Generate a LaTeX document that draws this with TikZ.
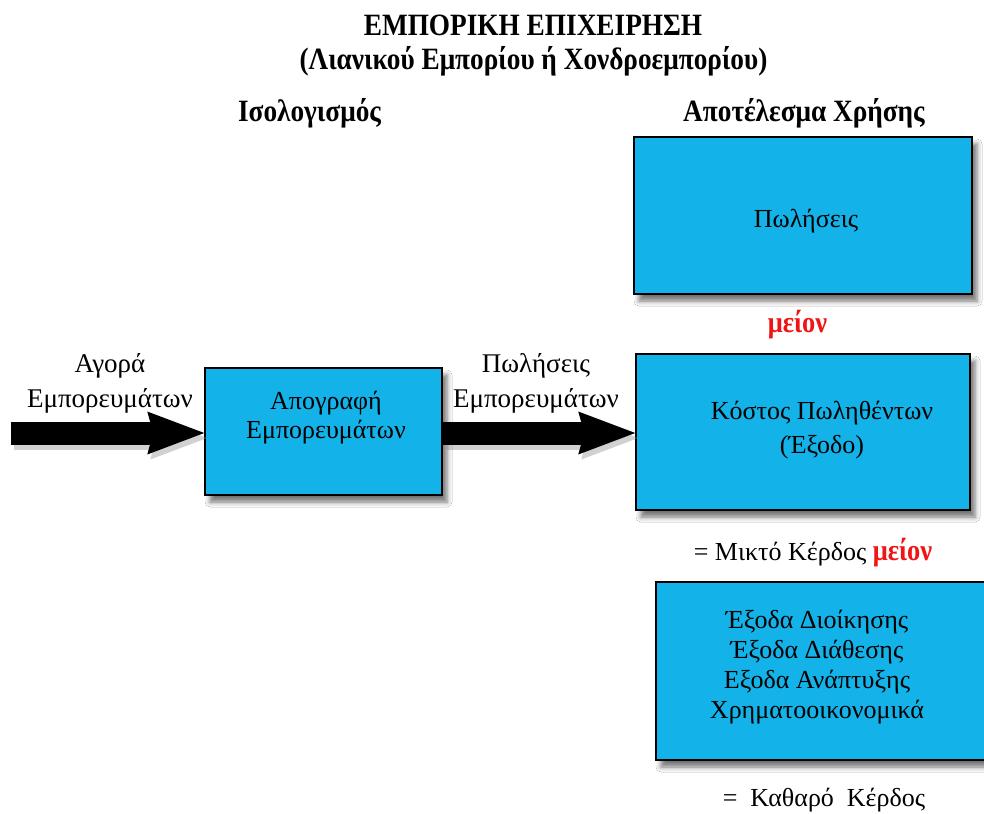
\documentclass[tikz,border=0pt]{standalone}
\usepackage{fontspec}
\setmainfont{Liberation Serif}
\newfontfamily\titlefont{Liberation Serif}[FakeStretch=0.88]
\usetikzlibrary{arrows.meta,shadows.blur}
\definecolor{boxblue}{RGB}{19,178,232}
\definecolor{meionred}{RGB}{240,20,20}
\tikzset{
  bluebox/.style={draw=black, line width=1.5pt, fill=boxblue, inner sep=0pt,
    blur shadow={shadow xshift=5pt, shadow yshift=-7pt, shadow blur radius=5pt, shadow opacity=55}},
  bodytxt/.style={font=\fontsize{26}{30}\selectfont, align=center, inner sep=0pt},
  headtxt/.style={font=\titlefont\bfseries\fontsize{31}{36}\selectfont, inner sep=0pt, anchor=base},
  bigarrow/.style={line width=23pt, -{Stealth[line width=0pt, length=57pt, width=43pt, inset=6pt]}},
  arrowshadow/.style={bigarrow, draw=black!45, opacity=0.4},
}
\begin{document}
\begin{tikzpicture}[x=1pt,y=-1pt]
\clip (0,0) rectangle (984,813);
\fill[white] (0,0) rectangle (984,813);
% titles
\node[headtxt] (t1) at (533,36) {ΕΜΠΟΡΙΚΗ ΕΠΙΧΕΙΡΗΣΗ};
\node[headtxt] (t2) at (533.5,70) {(Λιανικού Εμπορίου ή Χονδροεμπορίου)};
\node[headtxt] (h1) at (309.5,122) {Ισολογισμός};
\node[headtxt] (h2) at (804,122) {Αποτέλεσμα Χρήσης};
% boxes
\node[bluebox, minimum width=338pt, minimum height=157pt] (sales) at (803,215.5) {};
\node[bodytxt] (salest) at (806,221) {Πωλήσεις};
\node[headtxt, text=meionred, font=\titlefont\bfseries\fontsize{30}{34}\selectfont] (minus1) at (797.5,332) {μείον};
\node[bluebox, minimum width=334pt, minimum height=156pt] (cost) at (803,432) {};
\node[bodytxt, font=\fontsize{26}{34}\selectfont] (costt) at (822,430.5) {Κόστος Πωληθέντων\\(Έξοδο)};
\node[bodytxt] (gross) at (813,553) {= Μικτό Κέρδος \textcolor{meionred}{\titlefont\bfseries\fontsize{30}{34}\selectfont μείον}};
\node[bluebox, minimum width=340pt, minimum height=178pt] (exp) at (826,671) {};
\node[bodytxt] (expt) at (817,667) {Έξοδα Διοίκησης\\Έξοδα Διάθεσης\\Εξοδα Ανάπτυξης\\Χρηματοοικονομικά};
\node[bodytxt] (net) at (824,800) {=\ \ Καθαρό\ \ Κέρδος};
% inventory box
\node[bluebox, minimum width=237pt, minimum height=127pt] (stock) at (323.5,431.5) {};
\node[bodytxt, font=\fontsize{26}{29}\selectfont] (stockt) at (326,418) {Απογραφή\\Εμπορευμάτων};
% arrow labels
\node[bodytxt, font=\fontsize{27}{35}\selectfont] (l1) at (110,383) {Αγορά\\Εμπορευμάτων};
\node[bodytxt, font=\fontsize{27}{35}\selectfont] (l2) at (536,383) {Πωλήσεις\\Εμπορευμάτων};
% arrows
\coordinate (a1s) at (11,433);
\begin{scope}[transform canvas={shift={(3pt,-5pt)}}]
\draw[arrowshadow] (a1s) -- (stock.west|-a1s);
\draw[arrowshadow] (stock.east|-a1s) -- (cost.west|-a1s);
\end{scope}
\draw[bigarrow] (a1s) -- (stock.west|-a1s);
\draw[bigarrow] (stock.east|-a1s) -- (cost.west|-a1s);
\end{tikzpicture}
\end{document}
